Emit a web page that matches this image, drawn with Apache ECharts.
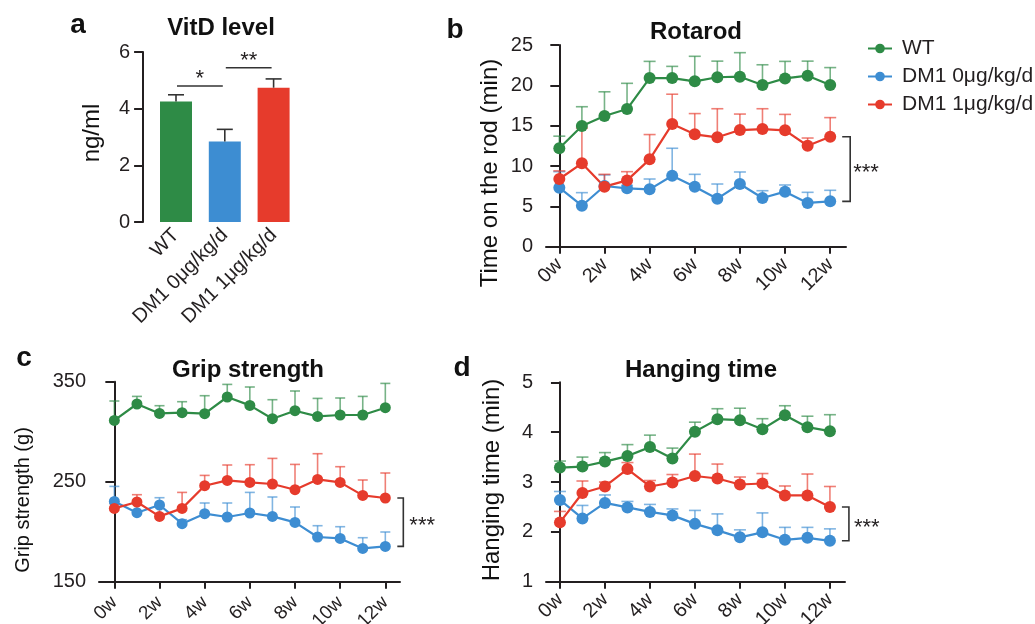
<!DOCTYPE html>
<html><head><meta charset="utf-8">
<script src="https://cdn.jsdelivr.net/npm/echarts@6/dist/echarts.min.js"></script>
<style>html,body{margin:0;padding:0;background:#fff}#c{width:1035px;height:624px}</style>
</head><body><div id="c"></div>
<script>
// ---------- data ----------
const groups = ['WT', 'DM1 0μg/kg/d', 'DM1 1μg/kg/d'];
const weeks = [0, 1, 2, 3, 4, 5, 6, 7, 8, 9, 10, 11, 12];
const weekTicks = [0, 2, 4, 6, 8, 10, 12];

const vitdMean = [4.25, 2.84, 4.74];
const vitdUpper = [4.49, 3.27, 5.05];
const vitdSigPairs = [[0, 1, 4.8], [1, 2, 5.44]];
const vitdSigLabels = ['*', '**'];

const rotWT = [12.2, 14.96, 16.2, 17.06, 20.9, 20.9, 20.5, 21.0, 21.07, 20.04, 20.86, 21.2, 20.04];
const rotWTUp = [13.7, 17.35, 19.2, 20.25, 22.97, 22.35, 23.6, 23.0, 24.05, 22.55, 22.97, 23.0, 22.2];
const rotDM0 = [7.31, 5.08, 7.52, 7.23, 7.11, 8.8, 7.44, 5.95, 7.77, 6.03, 6.82, 5.42, 5.62];
const rotDM0Up = [9.3, 6.7, 8.9, 7.6, 8.39, 12.2, 8.97, 7.77, 9.26, 6.94, 7.65, 6.74, 6.99];
const rotDM1 = [8.39, 10.33, 7.44, 8.22, 10.83, 15.2, 13.93, 13.56, 14.46, 14.58, 14.42, 12.51, 13.63];
const rotDM1Up = [9.4, 14.7, 8.97, 9.3, 13.9, 18.9, 16.5, 17.1, 16.44, 17.1, 16.4, 13.47, 16.0];

const gripWT = [311.3, 327.7, 318.3, 319, 318, 334.7, 326.3, 313, 321, 315.3, 316.7, 316.7, 324];
const gripWTUp = [330.7, 335.3, 326, 330, 336, 347.3, 344.7, 332, 340.7, 333.3, 333.7, 335.3, 348.3];
const gripDM0 = [230.3, 219, 226.7, 208, 218, 214.7, 218.7, 215.3, 209.3, 194.7, 193.3, 183.3, 185.3];
const gripDM0Up = [245.3, 228, 234, 212, 228.7, 228.7, 239.3, 234.7, 224.7, 206, 205, 194, 199.7];
const gripDM1 = [223.3, 229.7, 215.3, 223.3, 246, 251.3, 249.3, 247.7, 242, 252.3, 249.3, 236.3, 233.7];
const gripDM1Up = [228.3, 237, 225.7, 239.3, 256.3, 266.7, 267, 273.3, 267.3, 278, 265, 251.7, 258.7];

const hangWT = [3.29, 3.31, 3.41, 3.52, 3.70, 3.47, 4.01, 4.26, 4.24, 4.06, 4.34, 4.10, 4.02];
const hangWTUp = [3.42, 3.50, 3.59, 3.75, 3.94, 3.68, 4.20, 4.47, 4.48, 4.27, 4.53, 4.32, 4.35];
const hangDM0 = [2.64, 2.27, 2.58, 2.49, 2.40, 2.33, 2.16, 2.03, 1.89, 1.99, 1.84, 1.88, 1.82];
const hangDM0Up = [2.81, 2.53, 2.74, 2.61, 2.55, 2.46, 2.43, 2.36, 2.04, 2.38, 2.09, 2.09, 2.06];
const hangDM1 = [2.19, 2.78, 2.91, 3.26, 2.91, 2.99, 3.12, 3.07, 2.95, 2.97, 2.73, 2.73, 2.50];
const hangDM1Up = [2.41, 3.02, 3.0, 3.39, 3.03, 3.15, 3.56, 3.36, 3.10, 3.17, 2.92, 3.16, 2.91];

// ---------- styling ----------
const FF = "'Liberation Sans', Arial, Helvetica, sans-serif";
const INK = '#231f20';
const colors = ['#2e8b46', '#3d8dd2', '#e63b2c'];
const errColors = ['rgba(46,139,70,0.65)', 'rgba(61,141,210,0.65)', 'rgba(230,59,44,0.65)'];

const panels = [
  { grid: 1, means: [rotWT, rotDM0, rotDM1], ups: [rotWTUp, rotDM0Up, rotDM1Up], sym: 12, cap: 6, brLine: 20, brTick: 12, star: 3 },
  { grid: 2, means: [gripWT, gripDM0, gripDM1], ups: [gripWTUp, gripDM0Up, gripDM1Up], sym: 11, cap: 5, brLine: 18, brTick: 12, star: 6 },
  { grid: 3, means: [hangWT, hangDM0, hangDM1], ups: [hangWTUp, hangDM0Up, hangDM1Up], sym: 12, cap: 6, brLine: 19, brTick: 12, star: 5 }
];

const axisLineStyle = { color: INK, width: 2 };

function yAxisCfg(gi, min, max, interval, offset) {
  return {
    gridIndex: gi, type: 'value', min, max, interval, offset: offset || 0,
    axisLine: { show: true, lineStyle: axisLineStyle },
    axisTick: { show: true, length: 9, lineStyle: axisLineStyle },
    axisLabel: { fontSize: 20, color: INK, margin: 13, fontFamily: FF },
    splitLine: { show: false }
  };
}
function xAxisCfg(gi, min, max, margin, fs) {
  return {
    gridIndex: gi, type: 'value', min, max,
    axisLine: { show: true, onZero: false, lineStyle: axisLineStyle },
    axisTick: { show: true, length: 7, lineStyle: axisLineStyle, customValues: weekTicks },
    axisLabel: { customValues: weekTicks, formatter: v => v + 'w', rotate: 45, margin, fontSize: fs, color: INK, fontFamily: FF },
    splitLine: { show: false }
  };
}

function errRender(cap, color) {
  return function (params, api) {
    const x = api.value(0);
    const p0 = api.coord([x, api.value(1)]);
    const p1 = api.coord([x, api.value(2)]);
    return {
      type: 'group', children: [
        { type: 'line', shape: { x1: p0[0], y1: p0[1], x2: p1[0], y2: p1[1] }, style: { stroke: color, lineWidth: 1.6 } },
        { type: 'line', shape: { x1: p1[0] - cap, y1: p1[1], x2: p1[0] + cap, y2: p1[1] }, style: { stroke: color, lineWidth: 1.6 } }
      ]
    };
  };
}

const series = [];
// panel a bars
series.push({
  type: 'bar', name: 'VitD', xAxisIndex: 0, yAxisIndex: 0, barWidth: 32,
  data: vitdMean.map((v, i) => ({ value: v, itemStyle: { color: colors[i] } })),
  z: 2
});
series.push({
  type: 'custom', xAxisIndex: 0, yAxisIndex: 0, z: 3, clip: false,
  data: vitdMean.map((v, i) => [i, v, vitdUpper[i]]),
  encode: { x: 0, y: [1, 2] },
  renderItem: errRender(8, '#333')
});
series.push({
  type: 'custom', xAxisIndex: 0, yAxisIndex: 0, z: 3, clip: false,
  data: vitdSigPairs,
  encode: { x: [0, 1], y: 2 },
  renderItem: function (params, api) {
    const y = api.value(2);
    const a = api.coord([api.value(0), y]);
    const b = api.coord([api.value(1), y]);
    const x1 = a[0] + 1, x2 = b[0] - 2;
    return {
      type: 'group', children: [
        { type: 'line', shape: { x1, y1: a[1], x2, y2: a[1] }, style: { stroke: '#333', lineWidth: 1.5 } },
        { type: 'text', style: { text: vitdSigLabels[params.dataIndex], x: (x1 + x2) / 2, y: a[1] - 7, align: 'center', verticalAlign: 'middle', textAlign: 'center', textVerticalAlign: 'middle', font: '22px ' + FF, fill: INK } }
      ]
    };
  }
});

panels.forEach(p => {
  for (let g = 0; g < 3; g++) {
    series.push({
      type: 'custom', xAxisIndex: p.grid, yAxisIndex: p.grid, z: 2, clip: false,
      data: weeks.map((w, i) => [w, p.means[g][i], p.ups[g][i]]),
      encode: { x: 0, y: [1, 2] },
      renderItem: errRender(p.cap, errColors[g])
    });
  }
  for (let g = 0; g < 3; g++) {
    series.push({
      type: 'line', name: groups[g], xAxisIndex: p.grid, yAxisIndex: p.grid, z: 4,
      data: weeks.map((w, i) => [w, p.means[g][i]]),
      symbol: 'circle', symbolSize: p.sym, showSymbol: true,
      lineStyle: { color: colors[g], width: 2.2 },
      itemStyle: { color: colors[g] },
      emphasis: { disabled: true }
    });
  }
  const last = weeks.length - 1;
  series.push({
    type: 'custom', xAxisIndex: p.grid, yAxisIndex: p.grid, z: 5, clip: false,
    data: [[weeks[last], p.means[2][last], p.means[1][last]]],
    encode: { x: 0, y: [1, 2] },
    renderItem: function (params, api) {
      const t = api.coord([api.value(0), api.value(1)]);
      const b = api.coord([api.value(0), api.value(2)]);
      const bx = t[0] + p.brLine, tx = t[0] + p.brTick;
      return {
        type: 'group', children: [
          { type: 'polyline', shape: { points: [[tx, t[1]], [bx, t[1]], [bx, b[1]], [tx, b[1]]] }, style: { stroke: '#333', lineWidth: 1.6, fill: null } },
          { type: 'text', style: { text: '***', x: bx + p.star, y: (t[1] + b[1]) / 2 + 4, align: 'left', verticalAlign: 'middle', textAlign: 'left', textVerticalAlign: 'middle', font: '22px ' + FF, fill: INK } }
        ]
      };
    }
  });
});

function txt(text, x, y, size, bold, rot) {
  return {
    type: 'text', x, y, rotation: rot || 0, silent: true,
    style: { text, font: (bold ? 'bold ' : '') + size + 'px ' + FF, fill: '#111', align: 'center', verticalAlign: 'middle', textAlign: 'center', textVerticalAlign: 'middle' }
  };
}

const option = {
  animation: false,
  backgroundColor: '#fff',
  textStyle: { fontFamily: FF },
  grid: [
    { left: 151.6, top: 52, width: 146.4, height: 170, outerBoundsMode: 'none' },
    { left: 546, top: 45, width: 300, height: 201.7, outerBoundsMode: 'none' },
    { left: 99, top: 381.7, width: 301, height: 200, outerBoundsMode: 'none' },
    { left: 546, top: 382.3, width: 299, height: 199.4, outerBoundsMode: 'none' }
  ],
  xAxis: [
    {
      gridIndex: 0, type: 'category', data: groups,
      axisLine: { show: false }, axisTick: { show: false },
      axisLabel: { rotate: 45, margin: 10, fontSize: 20, color: INK, fontFamily: FF, interval: 0 }
    },
    xAxisCfg(1, -0.59, 12.7, 15, 20),
    xAxisCfg(2, -0.68, 12.65, 18, 19),
    xAxisCfg(3, -0.62, 12.67, 15, 20)
  ],
  yAxis: [
    yAxisCfg(0, 0, 6, 2, 8.5),
    yAxisCfg(1, 0, 25, 5),
    yAxisCfg(2, 150, 350, 100),
    yAxisCfg(3, 1, 5, 1)
  ],
  legend: {
    orient: 'vertical', left: 862, top: 33, itemWidth: 24, itemHeight: 12, itemGap: 7,
    data: groups,
    textStyle: { fontSize: 21, color: INK, fontFamily: FF, padding: [0, 0, 0, 5] }
  },
  graphic: [
    txt('a', 78, 25, 28, true),
    txt('b', 455, 30, 28, true),
    txt('c', 24, 358, 28, true),
    txt('d', 462, 368, 28, true),
    txt('VitD level', 221, 28.5, 24, true),
    txt('Rotarod', 696, 32, 24, true),
    txt('Grip strength', 248, 370, 24, true),
    txt('Hanging time', 701, 370, 24, true),
    txt('ng/ml', 92, 133, 24, false, Math.PI / 2),
    txt('Time on the rod (min)', 490, 173, 24, false, Math.PI / 2),
    txt('Grip strength (g)', 23, 500, 20, false, Math.PI / 2),
    txt('Hanging time (min)', 492, 480, 24, false, Math.PI / 2)
  ],
  series
};

const chart = echarts.init(document.getElementById('c'), null, { renderer: 'canvas' });
chart.setOption(option);
</script>
</body></html>
